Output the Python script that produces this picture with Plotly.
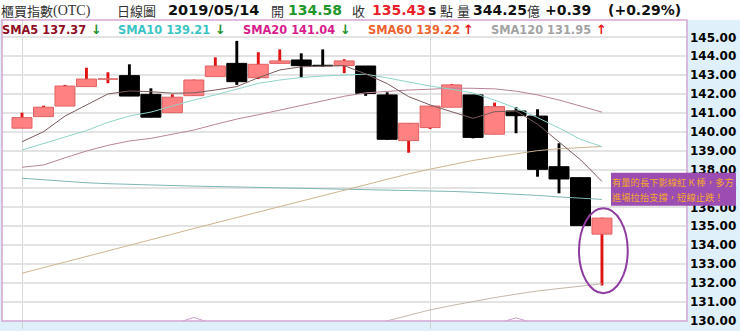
import plotly.graph_objects as go

# ---------------- data ----------------
opens  = [140.19, 140.80, 141.36, 142.39, 142.78, 142.97, 141.98, 141.01, 141.91, 142.92,
          143.62, 142.86, 143.62, 143.80, 143.52, 143.50, 143.48, 141.95, 139.53, 140.22,
          141.30, 141.95, 139.87, 141.10, 140.83, 138.15, 137.57, 134.58]
highs  = [141.01, 141.38, 142.48, 143.39, 143.15, 143.57, 142.30, 141.98, 142.76, 143.94,
          144.81, 144.21, 144.36, 144.15, 144.36, 143.84, 143.48, 142.09, 140.45, 141.36,
          142.53, 141.95, 141.54, 141.30, 141.19, 139.39, 137.57, 135.45]
lows   = [140.19, 140.80, 141.36, 142.39, 142.57, 141.89, 140.77, 141.01, 141.91, 142.92,
          142.48, 142.79, 143.62, 142.86, 143.44, 143.10, 141.90, 139.57, 138.89, 140.15,
          141.30, 139.65, 139.87, 139.92, 137.62, 136.74, 135.03, 131.86]
closes = [140.75, 141.30, 142.42, 142.79, 142.80, 141.89, 140.77, 141.83, 142.74, 143.48,
          142.65, 143.57, 143.75, 143.50, 143.49, 143.75, 142.03, 139.60, 140.45, 141.36,
          142.48, 139.70, 141.33, 140.85, 138.01, 137.50, 135.03, 135.43]

sma5   = [139.47, 140.00, 140.83, 141.42, 142.00, 142.16, 142.12, 142.04, 142.06, 142.21,
          142.39, 142.86, 143.27, 143.44, 143.45, 143.50, 143.06, 142.55, 141.86, 141.42,
          141.06, 140.71, 141.06, 141.10, 140.40, 139.47, 138.52, 137.37]
sma10  = [139.03, 139.39, 139.72, 140.06, 140.50, 140.83, 141.04, 141.36, 141.68, 141.95,
          142.25, 142.56, 142.74, 142.87, 142.95, 143.00, 143.05, 142.85, 142.62, 142.42,
          142.25, 142.05, 141.68, 141.25, 140.75, 140.20, 139.60, 139.21]
sma20  = [138.12, 138.24, 138.62, 138.98, 139.28, 139.51, 139.65, 139.86, 140.09, 140.39,
          140.67, 140.90, 141.15, 141.40, 141.65, 141.88, 142.06, 142.15, 142.21, 142.25,
          142.31, 142.30, 142.27, 142.15, 141.95, 141.68, 141.36, 141.04]
sma60  = [132.51, 132.80, 133.10, 133.40, 133.70, 133.99, 134.29, 134.58, 134.88, 135.17,
          135.47, 135.76, 136.06, 136.35, 136.64, 136.93, 137.21, 137.50, 137.77, 138.02,
          138.27, 138.48, 138.66, 138.84, 139.00, 139.10, 139.18, 139.22]
sma120 = [None, None, None, None, None, None, None, None, None, None,
          None, None, None, None, None, None, 129.70, 129.98, 130.30, 130.57,
          130.80, 131.02, 131.22, 131.40, 131.57, 131.70, 131.82, 131.95]
long_ma = [137.54, 137.45, 137.37, 137.30, 137.25, 137.21, 137.18, 137.15, 137.12, 137.10,
           137.08, 137.06, 137.04, 137.02, 137.00, 136.98, 136.96, 136.94, 136.92, 136.88,
           136.84, 136.80, 136.75, 136.68, 136.63, 136.55, 136.48, 136.42]
bottom_ind = [129.70, 129.70, 129.70, 129.70, 129.70, 129.70, 129.70, 129.80, 130.17, 129.80,
              129.70, 129.70, 129.70, 129.70, 129.70, 129.70, 129.70, 129.70, 129.70, 129.70,
              129.70, 129.70, 129.80, 130.15, 129.80, 129.70, 129.70, 129.70]

month_start_idx = [0, 19]
y_ticks = [130, 131, 132, 133, 134, 135, 136, 137, 138, 139, 140, 141, 142, 143, 144, 145]

sma_labels = [("SMA5 137.37", "#8e0d22", "↓", "#23902a"),
              ("SMA10 139.21", "#3cc4c4", "↓", "#23902a"),
              ("SMA20 141.04", "#d81c8c", "↓", "#23902a"),
              ("SMA60 139.22", "#ec6330", "↑", "#e52020"),
              ("SMA120 131.95", "#a3a3a3", "↑", "#e52020")]

note_lines = ["有量的長下影線紅 K 棒，多方", "進場拉抬支撐，短線止跌！"]

# ---------------- geometry ----------------
W, H = 740, 331
ML, MR, MT, MB = 2, 53, 20, 10
PW, PH = W - ML - MR, H - MT - MB
X0_PX, STEP = 22.0, 21.48          # pixel of first candle, spacing
Y145_PX, PX_PER_UNIT = 37.3, 18.89


def px(xp):
    return (xp - ML) / PW


def py(yp):
    return (H - MB - yp) / PH


x_range = [(ML - X0_PX) / STEP, (ML + PW - X0_PX) / STEP]
y_range = [130 - (H - MB - (Y145_PX + 15 * PX_PER_UNIT)) / PX_PER_UNIT,
           145 + (Y145_PX - MT) / PX_PER_UNIT]

idx = list(range(len(opens)))
up = [c >= o for o, c in zip(opens, closes)]

fig = go.Figure()

# wicks
for flag, col in [(True, "#e01212"), (False, "#000000")]:
    xs = [i for i in idx if up[i] == flag]
    fig.add_trace(go.Bar(x=xs, y=[highs[i] - lows[i] for i in xs],
                         base=[lows[i] for i in xs], width=0.135,
                         marker=dict(color=col, line=dict(width=0)), hoverinfo="skip"))
# bodies
for flag, fill, edge in [(True, "#ff8181", "#e06262"), (False, "#000000", "#000000")]:
    xs = [i for i in idx if up[i] == flag]
    fig.add_trace(go.Bar(x=xs, y=[abs(closes[i] - opens[i]) for i in xs],
                         base=[min(opens[i], closes[i]) for i in xs], width=0.93,
                         marker=dict(color=fill, line=dict(color=edge, width=1))))

# moving-average lines
for vals, col in [(bottom_ind, "#c99ac9"), (sma120, "#c4b8a8"), (long_ma, "#7fb6b6"),
                  (sma60, "#cdb48f"), (sma20, "#b9849c"), (sma10, "#8fd3c8"),
                  (sma5, "#7a5c5c")]:
    fig.add_trace(go.Scatter(x=idx, y=vals, mode="lines",
                             line=dict(color=col, width=1), hoverinfo="skip"))

shapes = [
    # white header strip
    dict(type="rect", xref="paper", yref="paper", x0=px(0), x1=px(W), y0=py(MT), y1=py(0),
         fillcolor="#ffffff", line=dict(width=0), layer="below"),
    # plot border
    dict(type="rect", xref="paper", yref="paper", x0=0, x1=1, y0=0, y1=1,
         line=dict(color="#d5a6d5", width=1.5), layer="above"),
    # ellipse around the last candle
    dict(type="circle", xref="x", yref="y", x0=idx[-1] - 1.07, x1=idx[-1] + 1.2,
         y0=lows[-1] - 0.41, y1=closes[-1] + 0.52,
         line=dict(color="#8e3b9f", width=2), layer="above"),
    # purple note box
    dict(type="rect", xref="paper", yref="paper", x0=px(611), x1=px(736),
         y0=py(205.7), y1=py(172.7), fillcolor="#9b4db1", line=dict(width=0), layer="above"),
]

ann = []


def add_text(x_px, y_px, text, size, color, family="DejaVu Sans", weight="normal"):
    ann.append(dict(xref="paper", yref="paper", x=px(x_px), y=py(y_px), text=text,
                    showarrow=False, xanchor="left", yanchor="middle", borderpad=0,
                    borderwidth=0,
                    font=dict(size=size, color=color, family=family, weight=weight)))


CJK = "Noto Sans CJK TC"
# header row
hy = 10
add_text(1, hy, "櫃買指數", 13, "#333333", CJK)
add_text(53, hy + 0.5, "(OTC)", 14, "#333333", "Liberation Serif")
add_text(117, hy, "日線圖", 13, "#333333", CJK)
add_text(168, hy, "2019/05/14", 14.5, "#111111", weight="bold")
add_text(271, hy, "開", 13, "#333333", CJK)
add_text(288, hy, "134.58", 14, "#23962b", weight="bold")
add_text(352, hy, "收", 13, "#333333", CJK)
add_text(372, hy, "135.43", 14, "#e8202a", weight="bold")
add_text(428, hy, "s", 14, "#111111", weight="bold")
add_text(440, hy, "點", 13, "#333333", CJK)
add_text(457, hy, "量", 13, "#333333", CJK)
add_text(473, hy, "344.25", 14, "#111111", weight="bold")
add_text(527, hy, "億", 13, "#333333", CJK)
add_text(545, hy, "+0.39", 14, "#111111", weight="bold")
add_text(608, hy, "(+0.29%)", 14, "#111111", weight="bold")

# SMA legend row
sy = 29.5
label_x = [2, 118, 243, 368, 491]
arrow_x = [91, 215, 340, 463, 596]
for (lab, col, arr, acol), lx, ax in zip(sma_labels, label_x, arrow_x):
    add_text(lx, sy, lab, 11.4, col, weight="bold")
    add_text(ax, sy, arr, 13, acol, weight="bold")

# note text
add_text(612, 181.5, note_lines[0], 9.3, "#f6a72c", CJK)
add_text(612, 197, note_lines[1], 9.3, "#f6a72c", CJK)

fig.update_layout(
    width=W, height=H,
    margin=dict(l=ML, r=MR, t=MT, b=MB, pad=0),
    paper_bgcolor="#e0f0fb", plot_bgcolor="#ffffff",
    barmode="overlay", showlegend=False,
    shapes=shapes, annotations=ann,
    xaxis=dict(range=x_range, tickvals=month_start_idx, showticklabels=False,
               ticks="outside", ticklen=7, tickcolor="#d0d0d0", showgrid=True,
               gridcolor="#d8d8d8", gridwidth=1, zeroline=False, showline=False,
               fixedrange=True),
    yaxis=dict(side="right", range=y_range, tickvals=y_ticks, tickformat=".2f",
               ticks="", showgrid=True, gridcolor="#e3e3e3", gridwidth=1.5,
               zeroline=False, showline=False, ticklabelstandoff=2,
               tickfont=dict(family="DejaVu Sans", size=12, color="#000000", weight="bold"),
               fixedrange=True),
)

fig.write_html("out.html")
